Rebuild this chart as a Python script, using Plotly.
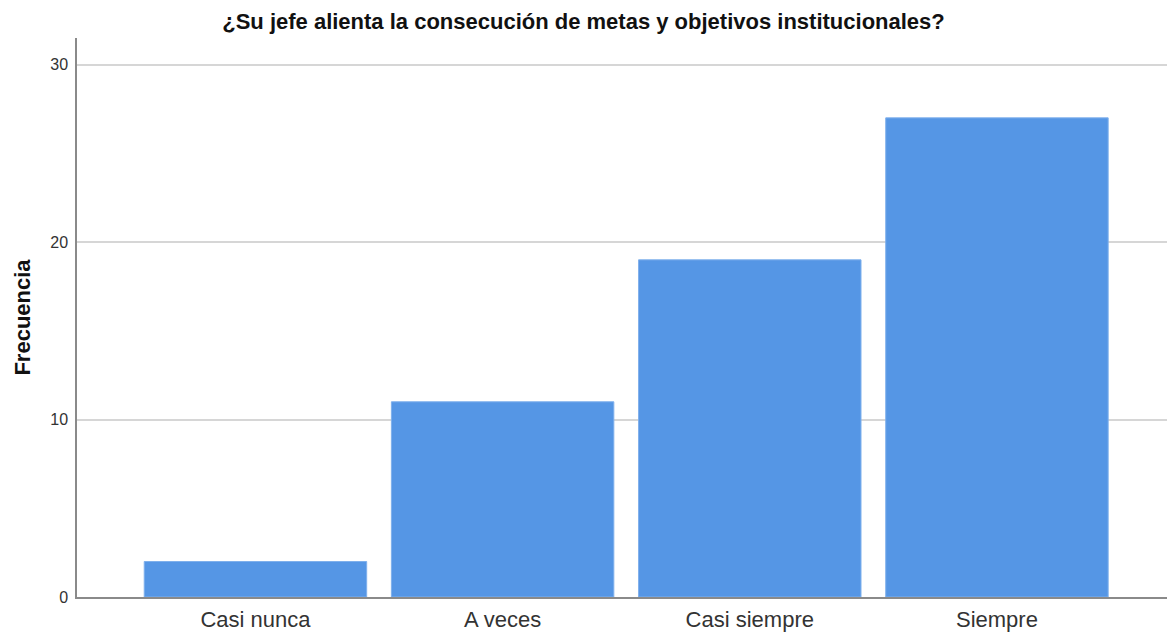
import plotly.graph_objects as go

# data
categorias = ["Casi nunca", "A veces", "Casi siempre", "Siempre"]
frecuencias = [2, 11, 19, 27]
y_ticks = [0, 10, 20, 30]

titulo = "¿Su jefe alienta la consecución de metas y objetivos institucionales?"


def main():
    fig = go.Figure()

    fig.add_trace(go.Bar(
        x=categorias,
        y=frecuencias,
        width=0.9,
        marker=dict(color="#5596E5", line=dict(color="#7FB0EC", width=1)),
    ))

    fig.update_layout(
        width=1167,
        height=634,
        margin=dict(l=77, r=0, t=38, b=37),
        paper_bgcolor="white",
        plot_bgcolor="white",
        showlegend=False,
        font=dict(family="Liberation Sans, Arial, sans-serif", color="#222222"),
        title=dict(
            text="<b>" + titulo + "</b>",
            x=0.5,
            xanchor="center",
            y=1 - 21 / 634,
            yanchor="middle",
            font=dict(size=22, color="#111111"),
        ),
    )

    # category axis
    fig.update_xaxes(
        range=[-0.722, 3.688],
        showline=True,
        linecolor="#8a8a8a",
        linewidth=1.5,
        showgrid=False,
        ticks="",
        ticklabelstandoff=2,
        tickfont=dict(size=22, color="#333333"),
    )

    # frequency axis
    fig.update_yaxes(
        range=[0, 31.5],
        tickvals=y_ticks,
        showline=True,
        linecolor="#8a8a8a",
        linewidth=1.5,
        showgrid=True,
        gridcolor="#d6d6d6",
        gridwidth=2,
        zeroline=False,
        ticks="",
        ticklabelstandoff=4,
        tickfont=dict(size=16, color="#333333"),
        title=dict(text="<b>Frecuencia</b>", font=dict(size=22, color="#111111"), standoff=14),
    )

    # drop the default page margin so the figure sits at the window's corner
    fig.write_html("out.html", config={"displayModeBar": False},
                   post_script="document.body.style.margin='0';")


if __name__ == "__main__":
    main()
